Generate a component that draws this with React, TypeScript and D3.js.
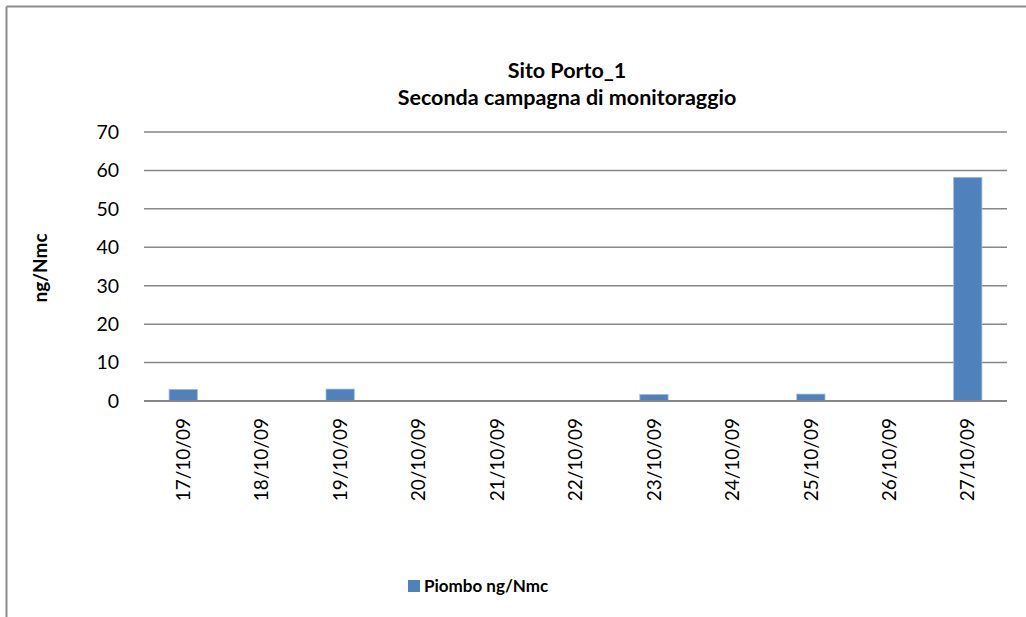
import React from "react";
import * as d3 from "d3";

const categories = ["17/10/09", "18/10/09", "19/10/09", "20/10/09", "21/10/09", "22/10/09", "23/10/09", "24/10/09", "25/10/09", "26/10/09", "27/10/09"];
const piombo = [3.0, 0, 3.1, 0, 0, 0, 1.7, 0, 1.8, 0, 58.2];
const yTicks = [0, 10, 20, 30, 40, 50, 60, 70];
const titleLines = ["Sito Porto_1", "Seconda campagna di monitoraggio"];
const yTitle = "ng/Nmc";
const seriesName = "Piombo ng/Nmc";

const W = 1026, H = 617;
const left = 144, right = 1007, top = 132, bottom = 401;
const FONT = "Lato, 'Open Sans', sans-serif";

export default function App() {
  const x = d3.scaleBand<string>().domain(categories).range([left, right]).paddingInner(0.64).paddingOuter(0.32);
  const y = d3.scaleLinear().domain([0, 70]).range([bottom, top]);
  const band = d3.scaleBand<string>().domain(categories).range([left, right]);
  return (
    <svg width={W} height={H} style={{ position: "absolute", left: 0, top: 0, background: "#fff" }}>
      <rect x={0} y={0} width={W} height={H} fill="#fff" />
      <line x1={6.5} y1={6.5} x2={W} y2={6.5} stroke="#8c8c8c" strokeWidth={2} />
      <line x1={6.5} y1={6.5} x2={6.5} y2={H} stroke="#8c8c8c" strokeWidth={2} />
      {titleLines.map((t, i) => (
        <text key={i} x={567} y={78 + i * 27} textAnchor="middle" fontFamily={FONT} fontWeight="bold" fontSize={21.5} fill="#000">{t}</text>
      ))}
      {yTicks.map((t) => (
        <g key={t}>
          <line x1={left} x2={right} y1={y(t)} y2={y(t)} stroke="#878787" strokeWidth={t === 0 ? 2 : 1.5} />
          <text x={119} y={y(t)} dy="0.35em" textAnchor="end" fontFamily={FONT} fontSize={19.5} fill="#000">{t}</text>
        </g>
      ))}
      {categories.map((c, i) => (
        <rect key={c} x={x(c)} y={y(piombo[i])} width={x.bandwidth()} height={y(0) - y(piombo[i])} fill="#4F81BD" stroke="#9DB9DC" strokeWidth={piombo[i] > 0 ? 0.8 : 0} />
      ))}
      <line x1={left} x2={right} y1={y(0)} y2={y(0)} stroke="#878787" strokeWidth={2} />
      {categories.map((c) => {
        const cx = (band(c) as number) + band.bandwidth() / 2;
        return (
          <text key={c} transform={`translate(${cx},418) rotate(-90)`} dy="0.35em" textAnchor="end" fontFamily={FONT} fontSize={19} fill="#000">{c}</text>
        );
      })}
      <text transform={`translate(40,268) rotate(-90)`} dy="0.35em" textAnchor="middle" fontFamily={FONT} fontWeight="bold" fontSize={19} fill="#000">{yTitle}</text>
      <rect x={408} y={580} width={12} height={12} fill="#4F81BD" />
      <text x={424} y={586} dy="0.35em" fontFamily={FONT} fontWeight="bold" fontSize={17} fill="#000">{seriesName}</text>
    </svg>
  );
}
